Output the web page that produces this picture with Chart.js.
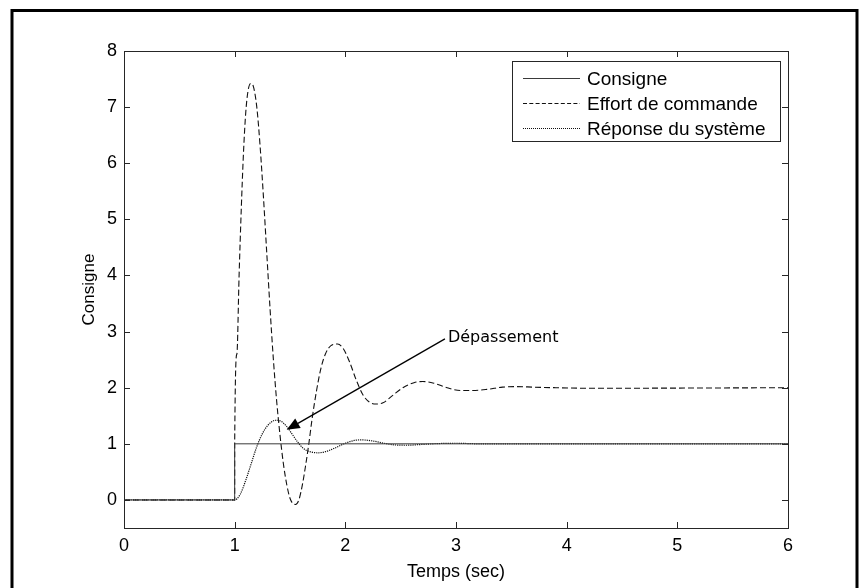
<!DOCTYPE html>
<html>
<head>
<meta charset="utf-8">
<script src="https://cdn.jsdelivr.net/npm/chart.js@4/dist/chart.umd.min.js"></script>
<style>
  html, body { margin: 0; padding: 0; background: #fff; }
  #wrap { width: 860px; height: 588px; position: relative; }
</style>
</head>
<body>
<div id="wrap"><canvas id="c" width="860" height="588"></canvas></div>
<script>
// Step input
const consigneT = [0, 1, 1, 6];
const consigneY = [0, 0, 1, 1];

// Control effort (dashed)
const effortT = [0, 1, 1.0001, 1.02, 1.04, 1.06, 1.08, 1.10, 1.12, 1.145, 1.17, 1.20, 1.23, 1.26, 1.29, 1.32,
  1.35, 1.38, 1.41, 1.44, 1.47, 1.50, 1.53, 1.55, 1.58, 1.61, 1.64, 1.67, 1.70, 1.74, 1.78, 1.82, 1.87,
  1.93, 1.98, 2.04, 2.10, 2.16, 2.22, 2.28, 2.34, 2.42, 2.52, 2.62, 2.70, 2.80, 2.92, 3.04, 3.15, 3.28,
  3.42, 3.55, 3.70, 3.90, 4.20, 6];
const effortY = [0, 0, 1.0, 2.6, 4.0, 5.2, 6.2, 6.9, 7.28, 7.42, 7.36, 7.0, 6.3, 5.4, 4.4, 3.4,
  2.5, 1.75, 1.15, 0.65, 0.28, 0.03, -0.07, -0.08, 0.0, 0.25, 0.6, 1.0, 1.45, 1.95, 2.35, 2.6, 2.75,
  2.78, 2.7, 2.45, 2.13, 1.87, 1.74, 1.71, 1.73, 1.85, 2.0, 2.09, 2.11, 2.08, 2.0, 1.95, 1.95, 1.97,
  2.01, 2.02, 2.01, 2.0, 1.99, 2.0];

// System response (dotted)
const reponseT = [0, 1, 1.05, 1.10, 1.15, 1.20, 1.25, 1.30, 1.35, 1.38, 1.42, 1.47, 1.52, 1.57, 1.62,
  1.68, 1.75, 1.82, 1.90, 2.00, 2.08, 2.15, 2.25, 2.35, 2.45, 2.55, 2.70, 2.85, 3.00, 3.20, 6];
const reponseY = [0, 0, 0.1, 0.35, 0.65, 0.95, 1.18, 1.33, 1.41, 1.42, 1.40, 1.31, 1.17, 1.03, 0.92,
  0.86, 0.84, 0.86, 0.92, 1.01, 1.06, 1.07, 1.05, 1.01, 0.98, 0.975, 0.99, 1.005, 1.01, 1.0, 1.0];

const xTicks = [0, 1, 2, 3, 4, 5, 6];
const yTicks = [0, 1, 2, 3, 4, 5, 6, 7, 8];
const seriesNames = ['Consigne', 'Effort de commande', 'Réponse du système'];
const xTitle = 'Temps (sec)';
const yTitle = 'Consigne';
const noteText = 'Dépassement';
const noteFrom = [2.90, 2.87];
const noteTo = [1.47, 1.25];

const pts = (t, y) => t.map((v, i) => ({ x: v, y: y[i] }));

const AXIS = '#262626';
const TICK_FONT = { family: 'Liberation Sans, Arial, sans-serif', size: 18 };
const YTITLE_FONT = { family: 'Liberation Sans, Arial, sans-serif', size: 17 };
const LEGEND_FONT = '19px "Liberation Sans", Arial, sans-serif';

// Frame, axes box, inward ticks, legend and annotation
const decor = {
  id: 'decor',
  beforeDraw(chart) {
    const ctx = chart.ctx;
    ctx.save();
    ctx.fillStyle = '#fff';
    ctx.fillRect(0, 0, chart.width, chart.height);
    ctx.strokeStyle = '#000';
    ctx.lineWidth = 3;
    ctx.beginPath();
    ctx.moveTo(12, 700);
    ctx.lineTo(12, 10.5);
    ctx.lineTo(857, 10.5);
    ctx.lineTo(857, 700);
    ctx.stroke();
    ctx.restore();
  },
  afterDatasetsDraw(chart) {
    const ctx = chart.ctx;
    const { left, right, top, bottom } = chart.chartArea;
    const xs = chart.scales.x, ys = chart.scales.y;
    const TL = 6;
    ctx.save();
    ctx.strokeStyle = AXIS;
    ctx.lineWidth = 1;
    ctx.setLineDash([]);
    ctx.strokeRect(Math.round(left) + 0.5, Math.round(top) + 0.5,
      Math.round(right - left), Math.round(bottom - top));
    ctx.beginPath();
    xTicks.forEach(v => {
      const px = Math.round(xs.getPixelForValue(v)) + 0.5;
      ctx.moveTo(px, bottom); ctx.lineTo(px, bottom - TL);
      ctx.moveTo(px, top); ctx.lineTo(px, top + TL);
    });
    yTicks.forEach(v => {
      const py = Math.round(ys.getPixelForValue(v)) + 0.5;
      ctx.moveTo(left, py); ctx.lineTo(left + TL, py);
      ctx.moveTo(right, py); ctx.lineTo(right - TL, py);
    });
    ctx.stroke();

    // legend
    const lx = 512.5, ly = 61.5, lw = 268, lh = 80;
    ctx.fillStyle = '#fff';
    ctx.fillRect(lx, ly, lw, lh);
    ctx.strokeStyle = AXIS;
    ctx.strokeRect(lx, ly, lw, lh);
    ctx.font = LEGEND_FONT;
    ctx.textBaseline = 'middle';
    ctx.textAlign = 'left';
    chart.data.datasets.forEach((ds, i) => {
      const y = Math.round(77.5 + i * 25) + 0.5;
      ctx.strokeStyle = ds.borderColor;
      ctx.lineWidth = 1;
      ctx.setLineDash(i === 1 ? [4, 2.3] : (i === 2 ? [1, 1] : []));
      ctx.beginPath();
      ctx.moveTo(523, y); ctx.lineTo(580, y);
      ctx.stroke();
      ctx.fillStyle = '#000';
      ctx.fillText(ds.label, 587, y + 1);
    });
    ctx.setLineDash([]);

    // annotation arrow
    const x0 = xs.getPixelForValue(noteFrom[0]), y0 = ys.getPixelForValue(noteFrom[1]);
    const x1 = xs.getPixelForValue(noteTo[0]), y1 = ys.getPixelForValue(noteTo[1]);
    const ang = Math.atan2(y1 - y0, x1 - x0);
    const hl = 13, hw = 5.5;
    const bx = x1 - hl * Math.cos(ang), by = y1 - hl * Math.sin(ang);
    ctx.strokeStyle = '#000';
    ctx.lineWidth = 1.3;
    ctx.beginPath();
    ctx.moveTo(x0, y0); ctx.lineTo(bx, by);
    ctx.stroke();
    ctx.fillStyle = '#000';
    ctx.beginPath();
    ctx.moveTo(x1, y1);
    ctx.lineTo(bx + hw * Math.sin(ang), by - hw * Math.cos(ang));
    ctx.lineTo(bx - hw * Math.sin(ang), by + hw * Math.cos(ang));
    ctx.closePath();
    ctx.fill();
    ctx.font = '16px "DejaVu Sans", sans-serif';
    ctx.textAlign = 'left';
    ctx.textBaseline = 'middle';
    ctx.fillText(noteText, x0 + 3, y0 - 1);
    ctx.restore();
  }
};

new Chart(document.getElementById('c'), {
  type: 'line',
  data: {
    datasets: [
      { label: seriesNames[0], data: pts(consigneT, consigneY), borderColor: '#3a3a3a', borderWidth: 1,
        pointRadius: 0, tension: 0 },
      { label: seriesNames[1], data: pts(effortT, effortY), borderColor: '#111', borderWidth: 1.1,
        borderDash: [6, 3], pointRadius: 0, cubicInterpolationMode: 'monotone' },
      { label: seriesNames[2], data: pts(reponseT, reponseY), borderColor: '#111', borderWidth: 1.2,
        borderDash: [1.2, 1], pointRadius: 0, cubicInterpolationMode: 'monotone' }
    ]
  },
  options: {
    responsive: false,
    animation: false,
    devicePixelRatio: 1,
    layout: { padding: { top: 51, right: 72, left: 0, bottom: 0 } },
    plugins: { legend: { display: false }, tooltip: { enabled: false } },
    scales: {
      x: {
        type: 'linear', min: 0, max: 6,
        afterBuildTicks: s => { s.ticks = xTicks.map(v => ({ value: v })); },
        afterFit: s => { s.height = 60; },
        grid: { display: false, drawTicks: false },
        border: { display: false },
        ticks: { padding: 7, color: '#000', font: TICK_FONT, maxRotation: 0 },
        title: { display: true, text: xTitle, color: '#000', font: TICK_FONT, padding: { top: 0, bottom: 5 } }
      },
      y: {
        type: 'linear', min: -0.5, max: 8,
        afterBuildTicks: s => { s.ticks = yTicks.map(v => ({ value: v })); },
        afterFit: s => { s.width = 124; },
        grid: { display: false, drawTicks: false },
        border: { display: false },
        ticks: { padding: 7, color: '#000', font: TICK_FONT },
        title: { display: true, text: yTitle, color: '#000', font: YTITLE_FONT, padding: { top: 79, bottom: 0 } }
      }
    }
  },
  plugins: [decor]
});
</script>
</body>
</html>
